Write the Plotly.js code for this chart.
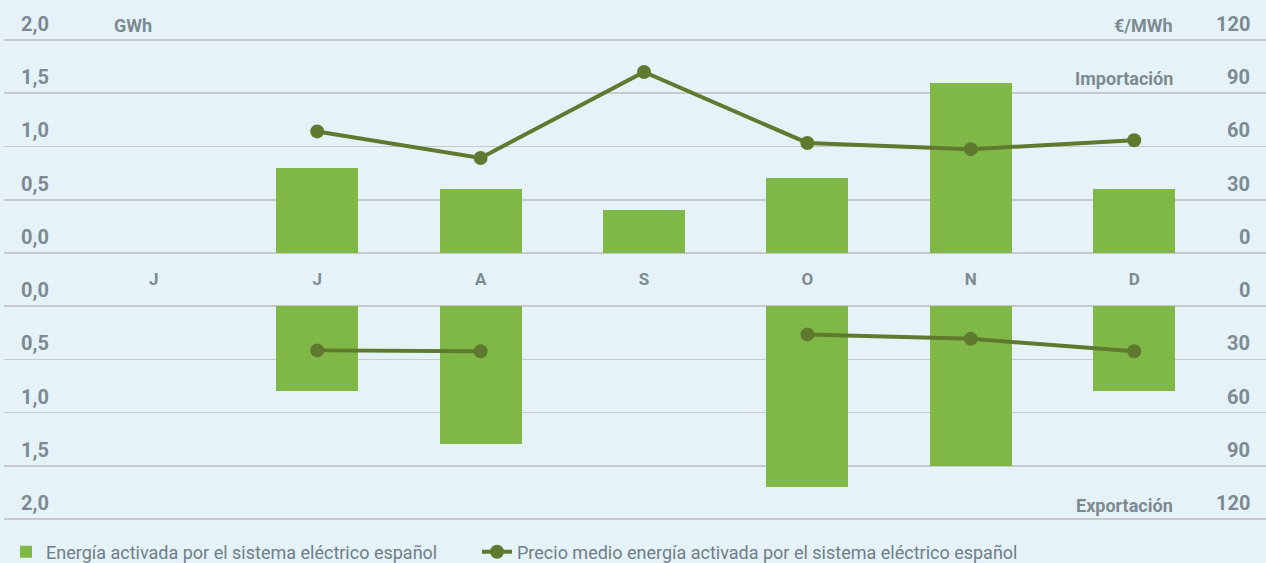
<!DOCTYPE html>
<html>
<head>
<meta charset="utf-8">
<script src="https://cdn.plot.ly/plotly-3.0.1.min.js"></script>
<style>
  html, body { margin: 0; padding: 0; background: #e5f3f9; }
  #chart { width: 1266px; height: 563px; }
</style>
</head>
<body>
<div id="chart"></div>
<script>
// Monthly energy activated by the Spanish electricity system (GWh) and its average price (€/MWh)
const months = ['J', 'J', 'A', 'S', 'O', 'N', 'D'];
const monthIndex = [0, 1, 2, 3, 4, 5, 6];
const importGWh = [null, 0.8, 0.6, 0.4, 0.7, 1.6, 0.6];
const exportGWh = [null, 0.8, 1.3, null, 1.7, 1.5, 0.8];
const importPrice = [null, 68.5, 53.5, 102, 62, 58.5, 63.5];
const exportPrice = [null, 25, 25.5, null, 16, 18.5, 25.5];
const energyTicks = [0, 0.5, 1, 1.5, 2];
const energyTickText = ['0,0', '0,5', '1,0', '1,5', '2,0'];
const priceTicks = [0, 30, 60, 90, 120];
const priceTickText = ['0', '30', '60', '90', '120'];

const W = 1266, H = 563;
const py = px => (H - px) / H;   // pixel row -> paper fraction
const pxX = px => px / W;

const barColor = '#80b847';
const lineColor = '#5f7a2e';
const textGrey = '#7d8a91';
const gridGrey = '#c6cacc';

const tickFont = { family: 'Roboto, sans-serif', size: 20, color: textGrey, weight: 700 };
const labelFont = { family: 'Roboto, sans-serif', size: 18, color: textGrey, weight: 700 };
const legendFont = { family: 'Roboto, sans-serif', size: 18, color: '#6f7e87' };

// small overshoot so the gridlines at both ends of each panel are drawn
const pad = 0.01;
const padPx = 213 / 2 * pad;

const traces = [
  {
    type: 'bar', x: monthIndex, y: importGWh, xaxis: 'x', yaxis: 'y',
    marker: { color: barColor }, width: 0.502,
    name: 'Energía activada por el sistema eléctrico español', legend: 'legend', showlegend: true
  },
  {
    type: 'bar', x: monthIndex, y: exportGWh, xaxis: 'x', yaxis: 'y2',
    marker: { color: barColor }, width: 0.502,
    name: 'Energía activada por el sistema eléctrico español', showlegend: false
  },
  {
    type: 'scatter', mode: 'lines+markers', x: monthIndex, y: importPrice, xaxis: 'x', yaxis: 'y3',
    line: { color: lineColor, width: 4 }, marker: { color: lineColor, size: 14 },
    connectgaps: false,
    name: 'Precio medio energía activada por el sistema eléctrico español', legend: 'legend2', showlegend: true
  },
  {
    type: 'scatter', mode: 'lines+markers', x: monthIndex, y: exportPrice, xaxis: 'x', yaxis: 'y4',
    line: { color: lineColor, width: 4 }, marker: { color: lineColor, size: 14 },
    connectgaps: false,
    name: 'Precio medio energía activada por el sistema eléctrico español', showlegend: false
  }
];

const leftAxis = {
  tickvals: energyTicks, showticklabels: false,
  showgrid: true, gridcolor: gridGrey, gridwidth: 1.5,
  zeroline: false, showline: false, ticks: '', fixedrange: true
};
const rightAxis = {
  side: 'right', showgrid: false, zeroline: false, showline: false, ticks: '',
  showticklabels: false, fixedrange: true
};

// Tick labels sit just above their gridlines, left (GWh) and right (€/MWh)
const tickNotes = [];
energyTicks.forEach((v, i) => {
  ['y', 'y2'].forEach(ax => tickNotes.push({
    text: energyTickText[i], xref: 'paper', yref: ax, x: pxX(51), y: v,
    xanchor: 'right', yanchor: 'bottom', yshift: 2, showarrow: false, font: tickFont
  }));
});
priceTicks.forEach((v, i) => {
  ['y3', 'y4'].forEach(ax => tickNotes.push({
    text: priceTickText[i], xref: 'paper', yref: ax, x: pxX(1252), y: v,
    xanchor: 'right', yanchor: 'bottom', yshift: 2, showarrow: false, font: tickFont
  }));
});

const legendBase = {
  orientation: 'h', xanchor: 'left', y: py(552), yanchor: 'middle',
  font: legendFont, bgcolor: 'rgba(0,0,0,0)', itemclick: false, itemdoubleclick: false
};

const layout = {
  width: W, height: H,
  paper_bgcolor: '#e5f3f9', plot_bgcolor: 'rgba(0,0,0,0)',
  margin: { l: 0, r: 0, t: 0, b: 0, pad: 0, autoexpand: false },
  showlegend: true,
  legend: Object.assign({}, legendBase, { x: pxX(6) }),
  legend2: Object.assign({}, legendBase, { x: pxX(477) }),
  bargap: 0,
  xaxis: {
    domain: [pxX(4), 1], range: [-0.9168, 6.8066], anchor: 'y',
    tickvals: monthIndex, ticktext: months,
    showgrid: false, zeroline: false, showline: false, ticks: '',
    tickfont: { family: 'Roboto, sans-serif', size: 17, color: textGrey, weight: 700 },
    ticklabelstandoff: 13, fixedrange: true
  },
  yaxis: Object.assign({}, leftAxis, { domain: [py(253 + padPx), py(40 - padPx)], range: [-pad, 2 + pad], anchor: 'x' }),
  yaxis2: Object.assign({}, leftAxis, { domain: [py(519 + padPx), py(306 - padPx)], range: [2 + pad, -pad], anchor: 'x' }),
  yaxis3: Object.assign({}, rightAxis, { overlaying: 'y', range: [-pad * 60, 120 + pad * 60], anchor: 'x' }),
  yaxis4: Object.assign({}, rightAxis, { overlaying: 'y2', range: [120 + pad * 60, -pad * 60], anchor: 'x' }),
  annotations: tickNotes.concat([
    { text: 'GWh', xref: 'paper', yref: 'paper', x: pxX(112), y: py(25), xanchor: 'left', yanchor: 'middle', showarrow: false, font: labelFont },
    { text: '€/MWh', xref: 'paper', yref: 'paper', x: pxX(1175), y: py(25), xanchor: 'right', yanchor: 'middle', showarrow: false, font: labelFont },
    { text: 'Importación', xref: 'paper', yref: 'paper', x: pxX(1175), y: py(78), xanchor: 'right', yanchor: 'middle', showarrow: false, font: labelFont },
    { text: 'Exportación', xref: 'paper', yref: 'paper', x: pxX(1175), y: py(505), xanchor: 'right', yanchor: 'middle', showarrow: false, font: labelFont }
  ])
};

Plotly.newPlot('chart', traces, layout, { staticPlot: true, displayModeBar: false });
</script>
</body>
</html>
